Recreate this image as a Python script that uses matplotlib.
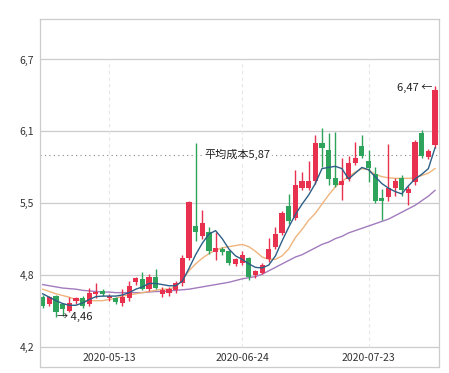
import numpy as np
import matplotlib
matplotlib.use("Agg")
import matplotlib.pyplot as plt

plt.rcParams["font.family"] = ["Noto Sans CJK KR", "DejaVu Sans"]

# ---- Data ------------------------------------------------------------------
OPEN = [4.63, 4.575, 4.64, 4.57, 4.51, 4.60, 4.62, 4.57, 4.66, 4.68,
        4.62, 4.62, 4.58, 4.62, 4.76, 4.79, 4.70, 4.81, 4.66, 4.67,
        4.69, 4.75, 4.97, 5.25, 5.16, 5.20, 5.02, 5.05, 5.03, 4.92,
        4.93, 4.97, 4.82, 4.84, 4.96, 5.07, 5.19, 5.42, 5.32, 5.58,
        5.58, 5.64, 5.97, 5.91, 5.67, 5.61, 5.66, 5.80, 5.95, 5.82,
        5.70, 5.49, 5.50, 5.58, 5.67, 5.535, 5.63, 6.06, 5.85, 5.955]
CLOSE = [4.555, 4.63, 4.50, 4.53, 4.58, 4.62, 4.555, 4.67, 4.67, 4.66,
         4.64, 4.59, 4.63, 4.73, 4.80, 4.70, 4.81, 4.71, 4.69, 4.70,
         4.75, 4.97, 5.46, 5.20, 5.28, 5.03, 5.06, 5.02, 4.93, 4.96,
         5.00, 4.81, 4.86, 4.91, 5.05, 5.18, 5.36, 5.29, 5.61, 5.64,
         5.64, 5.97, 5.925, 5.66, 5.61, 5.64, 5.80, 5.84, 5.86, 5.755,
         5.47, 5.47, 5.58, 5.64, 5.56, 5.57, 5.98, 5.86, 5.90, 6.43]
HIGH = [4.65, 4.64, 4.65, 4.58, 4.63, 4.63, 4.64, 4.71, 4.75, 4.70,
        4.66, 4.63, 4.70, 4.77, 4.81, 4.85, 4.83, 4.88, 4.72, 4.72,
        4.77, 5.00, 5.47, 5.97, 5.39, 5.24, 5.20, 5.07, 5.04, 4.97,
        5.03, 4.98, 4.87, 4.93, 5.15, 5.24, 5.38, 5.53, 5.74, 5.72,
        5.82, 6.04, 6.10, 6.06, 6.07, 5.84, 5.86, 5.98, 6.04, 5.91,
        5.76, 5.57, 5.96, 5.67, 5.69, 5.60, 6.00, 6.09, 5.92, 6.47]
LOW = [4.54, 4.55, 4.46, 4.47, 4.50, 4.57, 4.54, 4.55, 4.62, 4.64,
       4.60, 4.57, 4.55, 4.60, 4.74, 4.69, 4.68, 4.70, 4.63, 4.64,
       4.67, 4.73, 4.95, 5.12, 5.14, 5.01, 4.95, 5.00, 4.91, 4.90,
       4.91, 4.78, 4.80, 4.83, 4.94, 5.05, 5.17, 5.27, 5.30, 5.56,
       5.56, 5.62, 5.76, 5.61, 5.59, 5.48, 5.64, 5.78, 5.84, 5.63,
       5.45, 5.30, 5.47, 5.51, 5.51, 5.43, 5.61, 5.84, 5.83, 5.93]

MA_SHORT = [4.66, 4.63, 4.60, 4.575, 4.56, 4.56, 4.58, 4.61, 4.635, 4.64,
            4.64, 4.64, 4.65, 4.67, 4.70, 4.72, 4.75, 4.75, 4.74, 4.73,
            4.73, 4.77, 4.88, 5.00, 5.10, 5.18, 5.21, 5.14, 5.05, 4.99,
            4.96, 4.92, 4.89, 4.885, 4.91, 4.99, 5.12, 5.24, 5.35, 5.44,
            5.52, 5.62, 5.75, 5.76, 5.77, 5.75, 5.66, 5.71, 5.76, 5.74,
            5.68, 5.62, 5.58, 5.55, 5.53, 5.60, 5.66, 5.70, 5.75, 5.93]
MA_MID = [4.70, 4.68, 4.66, 4.645, 4.63, 4.61, 4.60, 4.60, 4.60, 4.60,
          4.61, 4.62, 4.64, 4.65, 4.66, 4.67, 4.68, 4.69, 4.70, 4.70,
          4.72, 4.78, 4.86, 4.92, 4.97, 5.01, 5.04, 5.06, 5.07, 5.08,
          5.09, 5.07, 5.03, 4.98, 4.96, 4.96, 4.99, 5.05, 5.15, 5.22,
          5.30, 5.36, 5.44, 5.52, 5.59, 5.64, 5.68, 5.72, 5.75, 5.74,
          5.70, 5.68, 5.67, 5.665, 5.665, 5.665, 5.67, 5.69, 5.71, 5.75]
MA_LONG = [4.74, 4.73, 4.72, 4.71, 4.705, 4.70, 4.69, 4.685, 4.68, 4.675,
           4.675, 4.67, 4.67, 4.67, 4.67, 4.67, 4.675, 4.68, 4.68, 4.685,
           4.69, 4.695, 4.70, 4.71, 4.72, 4.73, 4.74, 4.75, 4.76, 4.775,
           4.79, 4.80, 4.81, 4.83, 4.86, 4.89, 4.92, 4.95, 4.98, 5.00,
           5.03, 5.06, 5.09, 5.11, 5.14, 5.16, 5.19, 5.21, 5.23, 5.25,
           5.27, 5.29, 5.31, 5.34, 5.37, 5.40, 5.43, 5.47, 5.51, 5.56]

DATE_POS = [10, 30, 49]
DATE_LABELS = ["2020-05-13", "2020-06-24", "2020-07-23"]
Y_TICKS = [4.2, 4.825, 5.45, 6.075, 6.7]
Y_LABELS = ["4,2", "4,8", "5,5", "6,1", "6,7"]
AVG_COST = 5.87
HI_IDX, HI_VAL = 59, 6.47
LO_IDX, LO_VAL = 2, 4.46

# ---- Style -----------------------------------------------------------------
UP = "#e8314f"
DOWN = "#2ea35c"
GRID = "#cccccc"

fig = plt.figure(figsize=(4.49, 3.73), dpi=100, facecolor="white")
ax = fig.add_axes([0.0884, 0.0153, 0.8893, 0.933])

x = np.arange(len(OPEN))
o = np.array(OPEN); c = np.array(CLOSE)
colors = [UP if cc >= oo else DOWN for oo, cc in zip(o, c)]

# grid
for t in Y_TICKS:
    ax.axhline(t, color=GRID, lw=0.9, zorder=0)
ax.vlines(DATE_POS, Y_TICKS[0], Y_TICKS[-1], colors="#e6e6e6", lw=0.8,
          linestyles=(0, (3, 3)), zorder=0)

# moving averages
ax.plot(x, MA_LONG, color="#a27bbd", lw=1.0, zorder=1)
ax.plot(x, MA_MID, color="#efb47c", lw=1.0, zorder=1)
ax.plot(x, MA_SHORT, color="#2d5f86", lw=1.0, zorder=3)

# candles
ax.vlines(x, LOW, HIGH, colors=colors, lw=1.0, zorder=2)
body = np.maximum(np.abs(c - o), 0.012)
ax.bar(x, body, bottom=np.minimum(o, c), width=0.78, color=colors,
       linewidth=0, zorder=2)

# average cost line
ax.axhline(AVG_COST, color="#888888", lw=0.8, linestyle=(0, (1, 3)), zorder=1)
ax.text(24.4, AVG_COST, "平均成本" + f"{AVG_COST:.2f}".replace(".", ","),
        ha="left", va="center", fontsize=8, color="#222222", zorder=4,
        bbox=dict(facecolor="white", edgecolor="none", pad=0.5))

# high / low markers
ax.text(HI_IDX - 0.45, HI_VAL - 0.02, f"{HI_VAL:.2f}".replace(".", ",") + " ←",
        ha="right", va="center", fontsize=8, color="#222222", zorder=4)
ax.text(LO_IDX + 0.2, LO_VAL, "→ " + f"{LO_VAL:.2f}".replace(".", ","),
        ha="left", va="center", fontsize=8, color="#222222", zorder=4)

# date labels inside the frame, under the lowest grid line
for p, lab in zip(DATE_POS, DATE_LABELS):
    ax.text(p, 4.105, lab, ha="center", va="center", fontsize=7.5,
            color="#333333")

ax.set_xlim(-0.45, 59.6)
ax.set_ylim(4.02, 7.05)
ax.set_xticks([])
ax.set_yticks(Y_TICKS)
ax.set_yticklabels(Y_LABELS, fontsize=7.5, color="#333333")
ax.tick_params(axis="y", length=0, pad=4)
for s in ax.spines.values():
    s.set_color(GRID)
    s.set_linewidth(0.9)

fig.savefig("out.png", dpi=100, facecolor="white")
